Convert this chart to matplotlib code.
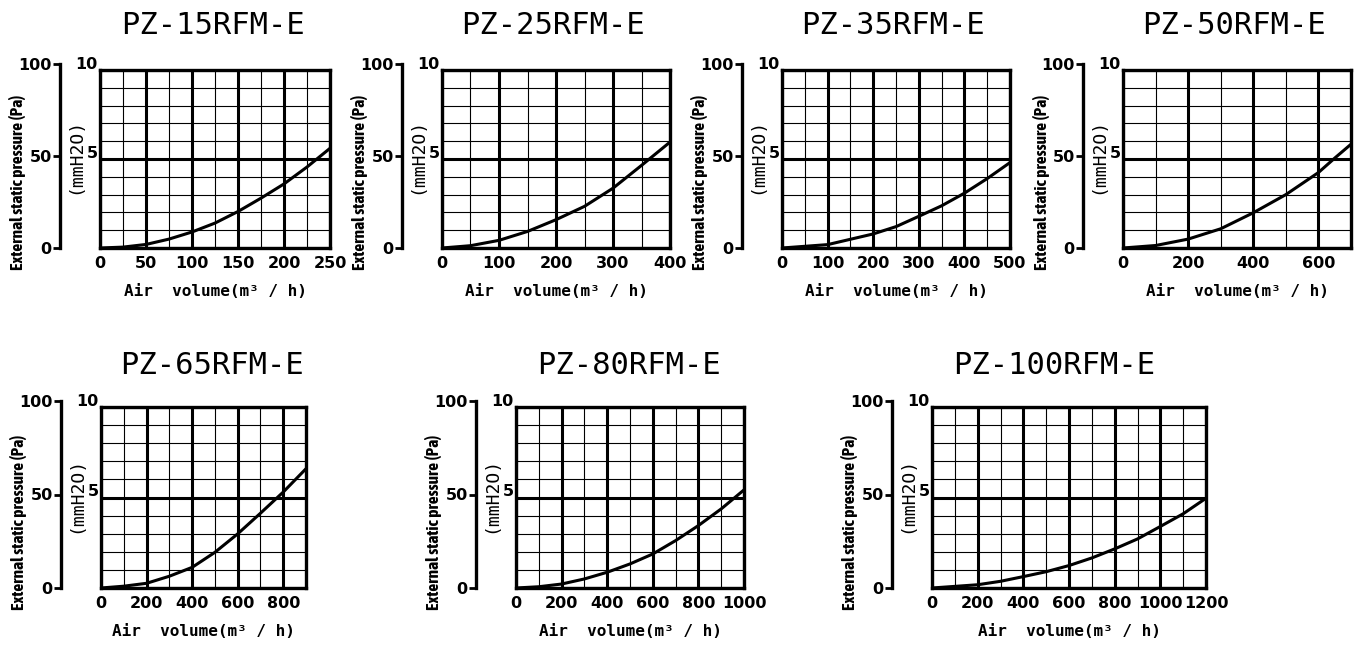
import matplotlib
matplotlib.use('Agg')
import matplotlib.pyplot as plt
from matplotlib import font_manager as fm

# models and curves (air volume m3/h -> static pressure mmH2O)
titles = ['PZ-15RFM-E', 'PZ-25RFM-E', 'PZ-35RFM-E', 'PZ-50RFM-E',
          'PZ-65RFM-E', 'PZ-80RFM-E', 'PZ-100RFM-E']

air_15 = [0, 25, 50, 75, 100, 125, 150, 175, 200, 225, 250]
pres_15 = [0, 0.05, 0.2, 0.5, 0.9, 1.4, 2.05, 2.8, 3.6, 4.55, 5.6]

air_25 = [0, 50, 100, 150, 200, 250, 300, 350, 400]
pres_25 = [0, 0.13, 0.43, 0.93, 1.59, 2.34, 3.36, 4.64, 5.95]

air_35 = [0, 100, 200, 250, 300, 350, 400, 450, 500]
pres_35 = [0, 0.19, 0.79, 1.2, 1.78, 2.37, 3.08, 3.9, 4.8]

air_50 = [0, 100, 200, 300, 400, 500, 600, 650, 700]
pres_50 = [0, 0.14, 0.5, 1.08, 1.98, 3.0, 4.24, 5.05, 5.83]

air_65 = [0, 100, 200, 300, 400, 500, 600, 700, 800, 900]
pres_65 = [0, 0.1, 0.26, 0.65, 1.14, 1.97, 2.99, 4.13, 5.3, 6.59]

air_80 = [0, 100, 200, 300, 400, 500, 600, 700, 800, 900, 1000]
pres_80 = [0, 0.07, 0.22, 0.5, 0.87, 1.33, 1.88, 2.62, 3.45, 4.37, 5.42]

air_100 = [0, 200, 300, 400, 500, 600, 700, 800, 900, 1000, 1100, 1200]
pres_100 = [0, 0.18, 0.37, 0.63, 0.9, 1.24, 1.66, 2.16, 2.71, 3.4, 4.1, 4.96]

curves = [(air_15, pres_15), (air_25, pres_25), (air_35, pres_35), (air_50, pres_50),
          (air_65, pres_65), (air_80, pres_80), (air_100, pres_100)]

x_max = [250, 400, 500, 700, 900, 1000, 1200]
x_major = [50, 100, 100, 200, 200, 200, 200]
x_minor = [25, 50, 50, 100, 100, 100, 100]
mm_labels = [5, 10]
pa_ticks = [0, 50, 100]

# layout in pixels (left, right of plot box, row index, title centre)
box_left = [100, 442, 782, 1123, 101, 516, 932]
box_right = [330, 670, 1010, 1351, 306, 744, 1206]
row = [0, 0, 0, 0, 1, 1, 1]
title_x = [213, 553, 893, 1234, 212, 629, 1054]
row_top = [70, 407]
row_bot = [248, 588]
title_y = [25, 365]

W, H = 1359, 646
fx = lambda p: p / W
fy = lambda p: 1 - p / H

names = {f.name for f in fm.fontManager.ttflist}
narrow = 'Asap Condensed' if 'Asap Condensed' in names else 'DejaVu Sans'
digits = 'DejaVu Sans'
dsize = 11.5
mono = 'DejaVu Sans Mono'

fig = plt.figure(figsize=(13.59, 6.46), dpi=100)

for i in range(7):
    r = row[i]
    l, rt = box_left[i], box_right[i]
    t, b = row_top[r], row_bot[r]
    ax = fig.add_axes([fx(l), fy(b), (rt - l) / W, (b - t) / H])
    ax.set_xlim(0, x_max[i])
    ax.set_ylim(0, 10)
    ax.set_xticks(list(range(0, x_max[i] + 1, x_major[i])))
    ax.set_xticks(list(range(0, x_max[i] + 1, x_minor[i])), minor=True)
    ax.set_yticks([0, 5, 10])
    ax.set_yticks(list(range(0, 11)), minor=True)
    ax.set_yticklabels([])
    ax.grid(which='minor', color='black', lw=0.8)
    ax.grid(which='major', color='black', lw=2.2)
    ax.tick_params(which='both', length=0)
    ax.tick_params(axis='x', pad=6)
    for lab in ax.get_xticklabels():
        lab.set_fontfamily(digits)
        lab.set_fontweight('bold')
        lab.set_fontsize(dsize)
    for v in mm_labels:
        ax.annotate(str(v), xy=(0, v), xycoords=('axes fraction', 'data'),
                    xytext=(-1.5, 4), textcoords='offset points', ha='right', va='center',
                    family=digits, weight='bold', fontsize=dsize)
    for s in ax.spines.values():
        s.set_linewidth(2.4)
    ax.set_axisbelow(True)
    xs, ys = curves[i]
    ax.plot(xs, ys, color='black', lw=2.2, solid_capstyle='butt')

    # Pa scale
    sx = l - 40
    pa = fig.add_axes([fx(sx), fy(b), 0.0001, (b - t + 6) / H])
    pa.set_ylim(0, 100)
    pa.set_yticks(pa_ticks)
    pa.set_xticks([])
    for k in ['top', 'right', 'bottom']:
        pa.spines[k].set_visible(False)
    pa.spines['left'].set_linewidth(2.4)
    pa.tick_params(axis='y', length=5, width=2, pad=1)
    for lab in pa.get_yticklabels():
        lab.set_fontfamily(digits)
        lab.set_fontweight('bold')
        lab.set_fontsize(dsize)
    pa.patch.set_visible(False)

    fig.text(fx(title_x[i]), fy(title_y[r]), titles[i], family=mono, fontsize=22,
             ha='center', va='center')
    fig.text(fx(l - 82), fy(b - 66), 'External static pressure (Pa)', rotation=90,
             ha='center', va='center', fontsize=12.5, family=narrow, weight='bold')
    fig.text(fx(l - 25), fy((t + b) / 2 - 3), '(mmH2O)', rotation=90, family=mono,
             fontsize=13, ha='center', va='center')
    fig.text(fx((l + rt) / 2), fy(b + 43), 'Air  volume(m³ / h)', family=mono,
             weight='bold', fontsize=11.5, ha='center', va='center')

fig.savefig('out.png', dpi=100)
